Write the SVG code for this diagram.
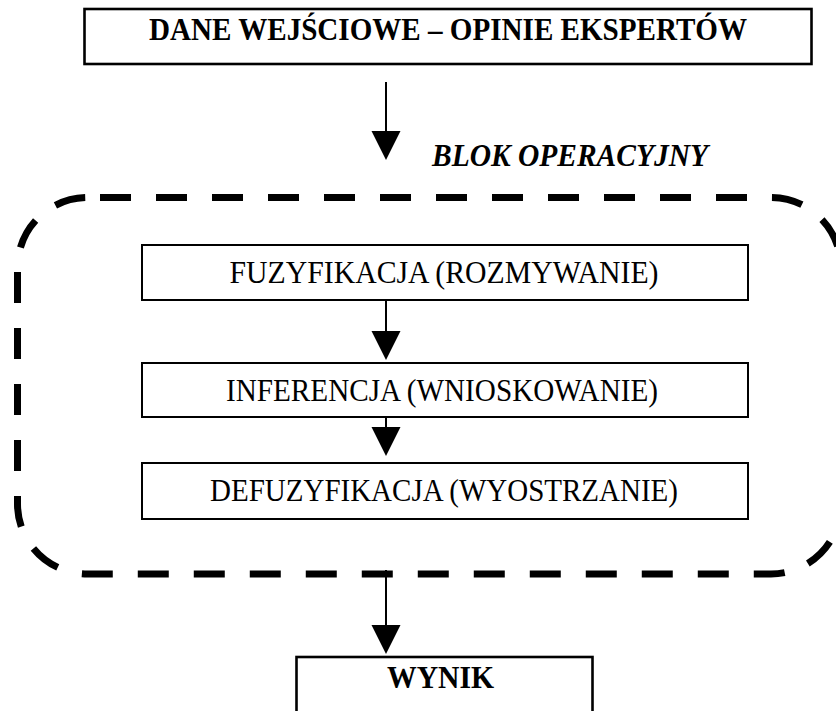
<svg xmlns="http://www.w3.org/2000/svg" width="836" height="711" viewBox="0 0 836 711">
<style>
.box{fill:#fff;stroke:#000;stroke-width:2}
.thick{stroke-width:2.6}
.t{font-family:"Liberation Serif","Times New Roman",serif;font-size:31px;fill:#000}
.b{font-weight:bold}
.i{font-style:italic}
.c{text-anchor:middle}
.dash{fill:none;stroke:#000;stroke-width:7;stroke-dasharray:31 25}
.conn{fill:none;stroke:#000;stroke-width:2;marker-end:url(#ah)}
</style>
<defs>
<marker id="ah" markerUnits="userSpaceOnUse" markerWidth="30" markerHeight="30" refX="0" refY="14.5" orient="auto" overflow="visible">
<path d="M0,0 L29,14.5 L0,29 Z" fill="#000"/>
</marker>
</defs>
<rect width="836" height="711" fill="#fff"/>
<g id="blok-operacyjny">
<path class="dash" style="stroke-dashoffset:43.5" d="M87.5,197.5 H771 A70,70 0 0 1 841,267.5 V504"/>
<path class="dash" style="stroke-dashoffset:16" d="M841,504 A70,70 0 0 1 771,574 H87.5 A70,70 0 0 1 17.5,504 V267.5 A70,70 0 0 1 87.5,197.5"/>
<text class="t b i" x="432" y="166" textLength="276" lengthAdjust="spacingAndGlyphs">BLOK OPERACYJNY</text>
</g>
<g id="dane">
<rect class="box thick" x="84.5" y="9" width="727" height="55"/>
<text class="t b c" x="448" y="40" font-size="29" textLength="598" lengthAdjust="spacingAndGlyphs">DANE WEJŚCIOWE – OPINIE EKSPERTÓW</text>
</g>
<g id="fuzyfikacja">
<rect class="box" x="142" y="245" width="606" height="55"/>
<text class="t c" x="444" y="283" textLength="429" lengthAdjust="spacingAndGlyphs">FUZYFIKACJA (ROZMYWANIE)</text>
</g>
<g id="inferencja">
<rect class="box" x="142" y="363" width="606" height="54"/>
<text class="t c" x="442" y="401" textLength="432" lengthAdjust="spacingAndGlyphs">INFERENCJA (WNIOSKOWANIE)</text>
</g>
<g id="defuzyfikacja">
<rect class="box" x="142" y="463" width="606" height="56"/>
<text class="t c" x="444" y="501" textLength="468" lengthAdjust="spacingAndGlyphs">DEFUZYFIKACJA (WYOSTRZANIE)</text>
</g>
<g id="wynik">
<rect class="box thick" x="296.5" y="657" width="296" height="70"/>
<text class="t b" x="387" y="688" textLength="107" lengthAdjust="spacingAndGlyphs">WYNIK</text>
</g>
<g id="connectors">
<line class="conn" x1="386" y1="82" x2="386" y2="131"/>
<line class="conn" x1="386" y1="300" x2="386" y2="331"/>
<line class="conn" x1="386" y1="417" x2="386" y2="427"/>
<line class="conn" x1="386" y1="570" x2="386" y2="625"/>
</g>
</svg>
